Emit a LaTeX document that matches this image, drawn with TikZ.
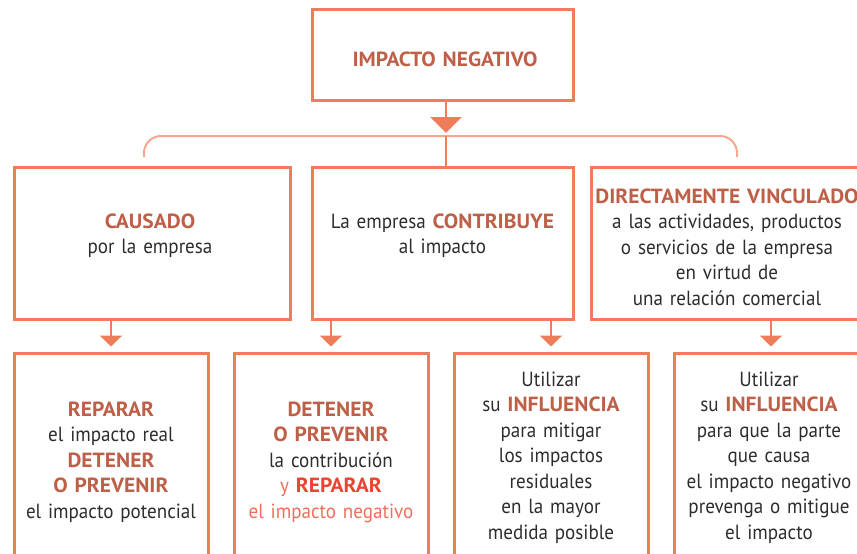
\documentclass[tikz,border=0pt]{standalone}
\usepackage{fontspec}
\setmainfont{PT Sans}[FakeStretch=0.93]
\newfontfamily\hbfont{PT Sans Bold}[FakeStretch=1.05]
\usetikzlibrary{arrows.meta}
\definecolor{boxc}{RGB}{239,125,89}
\definecolor{brc}{RGB}{246,168,140}
\definecolor{hl}{RGB}{190,96,72}
\definecolor{txtc}{RGB}{45,45,45}
\definecolor{redb}{RGB}{232,70,48}
\definecolor{redl}{RGB}{240,110,90}
\newcommand{\hb}[1]{{\hbfont\color{hl}#1}}
\tikzset{
  box/.style={draw=boxc, line width=3pt, rectangle, inner sep=0pt},
  lbl/.style={anchor=base, align=center, text width=300pt, inner sep=0pt,
    text=txtc, font=\fontsize{20.5}{25.5}\selectfont},
  arrbig/.style={draw=boxc, line width=2.5pt, -{Triangle[width=31pt,length=16pt]}},
  arrsm/.style={draw=boxc, line width=2.5pt, -{Triangle[width=22pt,length=11pt]}},
  brk/.style={draw=brc, line width=2pt, rounded corners=17pt},
}
\begin{document}
\begin{tikzpicture}[x=1pt,y=-1pt]
\useasboundingbox (0,0) rectangle (857,554);
\clip (0,0) rectangle (857,554);
% boxes
\node[box, minimum width=261pt, minimum height=91pt] (top) at (442.5,54.5) {};
\node[box, minimum width=276pt, minimum height=152pt] (c1) at (152,243) {};
\node[box, minimum width=261pt, minimum height=152pt] (c2) at (442.5,243) {};
\node[box, minimum width=277pt, minimum height=152pt] (c3) at (729.5,243) {};
\node[box, minimum width=194pt, minimum height=247pt] (b1) at (111,476.5) {};
\node[box, minimum width=194pt, minimum height=247pt] (b2) at (331,476.5) {};
\node[box, minimum width=194pt, minimum height=247pt] (b3) at (551,476.5) {};
\node[box, minimum width=194pt, minimum height=247pt] (b4) at (771,476.5) {};
% texts
\node[lbl] (ttop) at (445,66) {\hb{IMPACTO NEGATIVO}};
\node[lbl] (tc1) at (150,228) {\hb{CAUSADO}\\por la empresa};
\node[lbl] (tc2) at (442.5,228) {La empresa \hb{CONTRIBUYE}\\al impacto};
\node[lbl] (tc3) at (727,203) {\hb{DIRECTAMENTE VINCULADO}\\a las actividades, productos\\o servicios de la empresa\\en virtud de\\una relación comercial};
\node[lbl] (tb1) at (111,416) {\hb{REPARAR}\\el impacto real\\\hb{DETENER}\\\hb{O PREVENIR}\\el impacto potencial};
\node[lbl] (tb2) at (331,416) {\hb{DETENER}\\\hb{O PREVENIR}\\la contribución\\{\color{redl}y {\hbfont\color{redb}REPARAR}}\\{\color{redl}el impacto negativo}};
\node[lbl] (tb3) at (551,386) {Utilizar\\su \hb{INFLUENCIA}\\para mitigar\\los impactos\\residuales\\en la mayor\\medida posible};
\node[lbl] (tb4) at (769,386) {Utilizar\\su \hb{INFLUENCIA}\\para que la parte\\que causa\\el impacto negativo\\prevenga o mitigue\\el impacto};
% bracket
\coordinate (bl) at (144,157);
\coordinate (br) at (737,157);
\coordinate (bm) at (446,136);
\coordinate (tip) at (446,133);
\draw[brk] (bl) |- (bm) -| (br);
\draw[draw=boxc, line width=2.5pt] (bm) -- (bm |- c2.north);
\draw[arrbig] (tip |- top.south) -- (tip);
% small arrows
\draw[arrsm] (b1.north |- c1.south) -- ([yshift=5pt]b1.north);
\draw[arrsm] (b2.north |- c2.south) -- ([yshift=5pt]b2.north);
\draw[arrsm] (b3.north |- c2.south) -- ([yshift=5pt]b3.north);
\draw[arrsm] (b4.north |- c3.south) -- ([yshift=5pt]b4.north);
\end{tikzpicture}
\end{document}
